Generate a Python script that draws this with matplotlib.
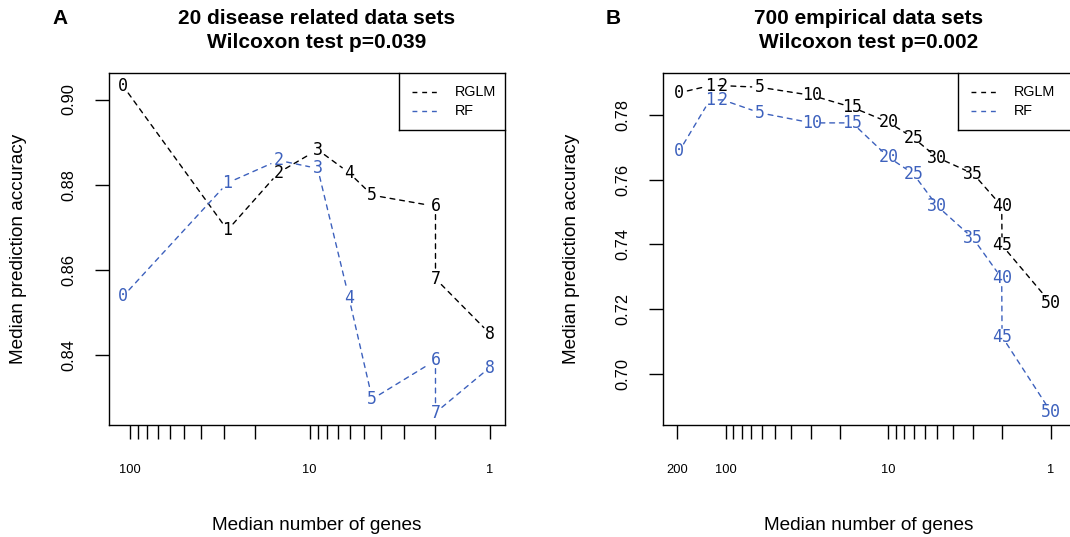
#-----------------------------------------------------------------------
#---- RGLM vs RF : precision mediane en fonction du nombre de genes
#-----------------------------------------------------------------------

import numpy as np
import matplotlib
matplotlib.use("Agg")
import matplotlib.pyplot as plt
from matplotlib.ticker import FixedLocator, NullFormatter, FixedFormatter


#---- Donnees panneau A (20 jeux lies a des maladies)
labels_A = ["0", "1", "2", "3", "4", "5", "6", "7", "8"]
genes_A = [108.5, 28.6, 14.9, 9.03, 6.05, 4.49, 2.0, 2.0, 1.0]
rglm_A = [0.9031, 0.8693, 0.8828, 0.8882, 0.8828, 0.8775, 0.8749, 0.8579, 0.8450]
rf_A = [0.8538, 0.8804, 0.8857, 0.8838, 0.8534, 0.8296, 0.8387, 0.8264, 0.8370]

#---- Donnees panneau B (700 jeux empiriques)
labels_B = ["0", "1", "2", "5", "10", "15", "20", "25", "30", "35", "40", "45", "50"]
genes_B = [193.8, 125.5, 104.8, 61.8, 29.7, 16.7, 10.0, 7.04, 5.01, 3.01, 2.01, 2.0, 1.0]
rglm_B = [0.7868, 0.7890, 0.7890, 0.7885, 0.7860, 0.7823, 0.7777, 0.7729, 0.7668,
          0.7618, 0.7518, 0.7397, 0.7218]
rf_B = [0.7688, 0.7846, 0.7846, 0.7806, 0.7775, 0.7775, 0.7669, 0.7618, 0.7518,
        0.7418, 0.7295, 0.7115, 0.6882]

titles = ["20 disease related data sets\nWilcoxon test p=0.039",
          "700 empirical data sets\nWilcoxon test p=0.002"]
letters = ["A", "B"]

BLUE = "#3D61BD"
SANS = "Liberation Sans"
MONO = "DejaVu Sans Mono"


#-------------------------------------------------------------------
#---- Courbe en pointilles avec les labels aux points (type "c" de R)
#-------------------------------------------------------------------
def drawSerie(ax, x, y, labels, color):
    for i in range(len(x) - 1):
        ax.annotate("", xy=(x[i + 1], y[i + 1]), xytext=(x[i], y[i]),
                    arrowprops=dict(arrowstyle="-", color=color, lw=1.0,
                                    linestyle=(0, (3.5, 3.5)),
                                    shrinkA=6, shrinkB=6))
    for xi, yi, lab in zip(x, y, labels):
        ax.text(xi, yi, lab, color=color, fontsize=12, family=MONO,
                ha="center", va="center")


#-------------------------------------------------------------------
#---- Legende encadree en haut a droite
#-------------------------------------------------------------------
def drawLegend(ax, x0):
    ax.plot([x0, 1.0], [0.837, 0.837], color="black", lw=1.0,
            transform=ax.transAxes, clip_on=False)
    ax.plot([x0, x0], [0.837, 1.0], color="black", lw=1.0,
            transform=ax.transAxes, clip_on=False)
    w = ax.get_position().width * 1070
    for k, (name, col) in enumerate([("RGLM", "black"), ("RF", BLUE)]):
        yy = 0.946 - k * 0.054
        ax.plot([x0 + 13 / w, x0 + 41 / w], [yy, yy], color=col, lw=1.0,
                linestyle=(0, (3.5, 3.5)), transform=ax.transAxes)
        ax.text(x0 + 56 / w, yy, name, fontsize=10.4, family=SANS,
                ha="left", va="center", transform=ax.transAxes)


#-------------------------------------------------------------------
#---- Mise en forme d'un panneau
#-------------------------------------------------------------------
def setupAxis(ax, xlim, ylim, yticks, xminor, xmajor, title, xcenter, ylabx):
    ax.set_xscale("log")
    ax.set_xlim(xlim)
    ax.set_ylim(ylim)

    ax.xaxis.set_major_locator(FixedLocator(xmajor))
    ax.xaxis.set_major_formatter(FixedFormatter([str(v) for v in xmajor]))
    ax.xaxis.set_minor_locator(FixedLocator(xminor))
    ax.xaxis.set_minor_formatter(NullFormatter())
    ax.tick_params(axis="x", which="both", length=10, width=1.0, pad=18,
                   labelsize=9.3, direction="out")
    ax.set_yticks(yticks)
    ax.set_yticklabels(["%.2f" % v for v in yticks])
    ax.tick_params(axis="y", length=10, width=1.0, pad=14, labelsize=11.8,
                   labelrotation=90)
    for lab in ax.get_yticklabels():
        lab.set_verticalalignment("center")
        lab.set_family(SANS)
    for lab in ax.get_xticklabels():
        lab.set_family(SANS)

    for sp in ax.spines.values():
        sp.set_linewidth(1.0)

    ax.set_xlabel("Median number of genes", fontsize=13.7, family=SANS)
    ax.xaxis.set_label_coords(xcenter, -0.284)
    ax.xaxis.label.set_verticalalignment("center")
    ax.set_ylabel("Median prediction accuracy", fontsize=13.7, family=SANS)
    ax.yaxis.set_label_coords(ylabx, 0.5)
    ax.yaxis.label.set_verticalalignment("center")

    ax.text(xcenter, 1.119, title, transform=ax.transAxes, ha="center", va="center",
            fontsize=15, fontweight="bold", family=SANS, linespacing=1.32)


#-----------------------------------------------------------------------
#---- Main script
#-----------------------------------------------------------------------
def main():
    plt.rcParams["font.family"] = [SANS, "DejaVu Sans"]
    fig = plt.figure(figsize=(10.70, 5.37), dpi=100)

    #---- Panneau A
    axA = fig.add_axes([109.3 / 1070, 112 / 537, 395.7 / 1070, 352.3 / 537])
    minorA = [90, 80, 70, 60, 50, 40, 30, 20, 9, 8, 7, 6, 5, 4, 3, 2]
    setupAxis(axA, (129.8, 0.822), (0.8235, 0.9063), [0.84, 0.86, 0.88, 0.90],
              minorA, [100, 10, 1], titles[0], 0.5236, -0.2307)
    drawSerie(axA, genes_A, rglm_A, labels_A, "black")
    drawSerie(axA, genes_A, rf_A, labels_A, BLUE)
    drawLegend(axA, 0.732)

    #---- Panneau B (depasse a droite de la figure)
    axB = fig.add_axes([663.3 / 1070, 112 / 537, 411.7 / 1070, 352.3 / 537])
    minorB = [90, 80, 70, 60, 50, 40, 30, 20, 9, 8, 7, 6, 5, 4, 3, 2]
    setupAxis(axB, (243.1, 0.7115), (0.6842, 0.7930), [0.70, 0.72, 0.74, 0.76, 0.78],
              minorB, [200, 100, 10, 1], titles[1], 0.4989, -0.2225)
    drawSerie(axB, genes_B, rglm_B, labels_B, "black")
    drawSerie(axB, genes_B, rf_B, labels_B, BLUE)
    drawLegend(axB, 0.715)

    #---- Lettres des panneaux
    fig.text(60 / 1070, 1 - 18 / 537, letters[0], fontsize=15, fontweight="bold",
             family=SANS, ha="center", va="center")
    fig.text(613 / 1070, 1 - 18 / 537, letters[1], fontsize=15, fontweight="bold",
             family=SANS, ha="center", va="center")

    fig.savefig("out.png", dpi=100)


#-----------------------------------------------------------------------
if __name__ == "__main__":
    main()
